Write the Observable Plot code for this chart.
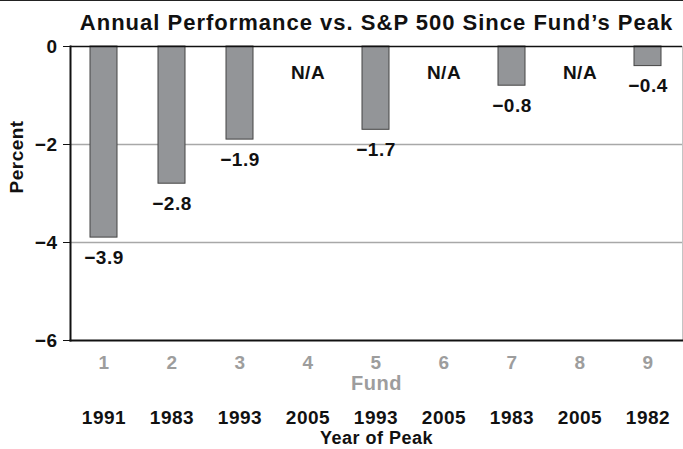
<!DOCTYPE html>
<html>
<head>
<meta charset="utf-8">
<script src="https://cdn.jsdelivr.net/npm/d3@7"></script>
<script src="https://cdn.jsdelivr.net/npm/@observablehq/plot@0.6"></script>
<style>
  html, body { margin: 0; padding: 0; background: #fff; }
  #wrap { position: relative; width: 683px; height: 449px; }
  #topline { position: absolute; left: 0; top: 0; width: 683px; height: 1px; background: #222; }
</style>
</head>
<body>
<div id="wrap"><div id="topline"></div></div>
<script>
const funds = ["1", "2", "3", "4", "5", "6", "7", "8", "9"];
const peakYears = ["1991", "1983", "1993", "2005", "1993", "2005", "1983", "2005", "1982"];
const values = [-3.9, -2.8, -1.9, null, -1.7, null, -0.8, null, -0.4];
const yTicks = [0, -2, -4, -6];
const titleText = "Annual Performance vs. S&P 500 Since Fund\u2019s Peak";

const rows = funds.map((f, i) => ({fund: f, year: peakYears[i], value: values[i]}));
const withValue = rows.filter(d => d.value != null);
const missing = rows.filter(d => d.value == null);
const fmt = v => (v < 0 ? "\u2212" : "") + Math.abs(v).toFixed(1);

const chart = Plot.plot({
  width: 683,
  height: 449,
  marginTop: 46,
  marginBottom: 109,
  marginLeft: 70,
  marginRight: 1,
  style: {
    fontFamily: "'Liberation Sans', Arial, Helvetica, sans-serif",
    fontSize: "19px",
    fontWeight: "bold",
    letterSpacing: "0.5px",
    background: "white",
    color: "#111",
    overflow: "visible"
  },
  x: {domain: funds, paddingInner: 0.6, paddingOuter: 0.3, axis: null},
  y: {domain: [-6, 0], axis: null},
  marks: [
    Plot.ruleY([-2, -4], {stroke: "#a8a8a8", strokeWidth: 1.5}),
    Plot.frame({anchor: "right", stroke: "#c4c4c4", strokeWidth: 1}),
    Plot.barY(withValue, {x: "fund", y1: 0, y2: "value", fill: "#939598", stroke: "#444", strokeWidth: 1}),
    Plot.ruleY([0], {stroke: "#111", strokeWidth: 1.5}),
    Plot.frame({anchor: "bottom", stroke: "#111", strokeWidth: 2}),
    Plot.frame({anchor: "left", stroke: "#111", strokeWidth: 2}),
    Plot.axisY({ticks: yTicks, tickSize: 7, tickPadding: 6, label: null, fontSize: 19, fontWeight: "bold", fill: "#111",
      tickFormat: d => d === 0 ? "0" : "\u2212" + Math.abs(d)}),
    Plot.text(withValue, {x: "fund", y: "value", text: d => fmt(d.value), dy: 20, lineAnchor: "middle", fill: "#111"}),
    Plot.text(missing, {x: "fund", frameAnchor: "top", text: () => "N/A", dy: 26, lineAnchor: "middle", fill: "#111"}),
    Plot.text(rows, {x: "fund", frameAnchor: "bottom", text: "fund", dy: 22, lineAnchor: "middle", fill: "#9d9d9d"}),
    Plot.text(["Fund"], {frameAnchor: "bottom", text: d => d, dy: 43, lineAnchor: "middle", fill: "#9d9d9d", fontSize: 20}),
    Plot.text(rows, {x: "fund", frameAnchor: "bottom", text: "year", dy: 77, lineAnchor: "middle", fill: "#111"}),
    Plot.text(["Year of Peak"], {frameAnchor: "bottom", text: d => d, dy: 98, lineAnchor: "middle", fill: "#111", fontSize: 18}),
    Plot.text(["Percent"], {frameAnchor: "left", text: d => d, dx: -54, rotate: -90, lineAnchor: "middle", fill: "#111", fontSize: 19}),
    Plot.text([titleText], {frameAnchor: "top", text: d => d, dy: -24, lineAnchor: "middle", fill: "#111", fontSize: 22})
  ]
});
d3.select(chart).selectAll("text").filter(function() { return this.textContent === titleText; })
  .style("letter-spacing", "1px");
document.getElementById("wrap").appendChild(chart);
</script>
</body>
</html>
